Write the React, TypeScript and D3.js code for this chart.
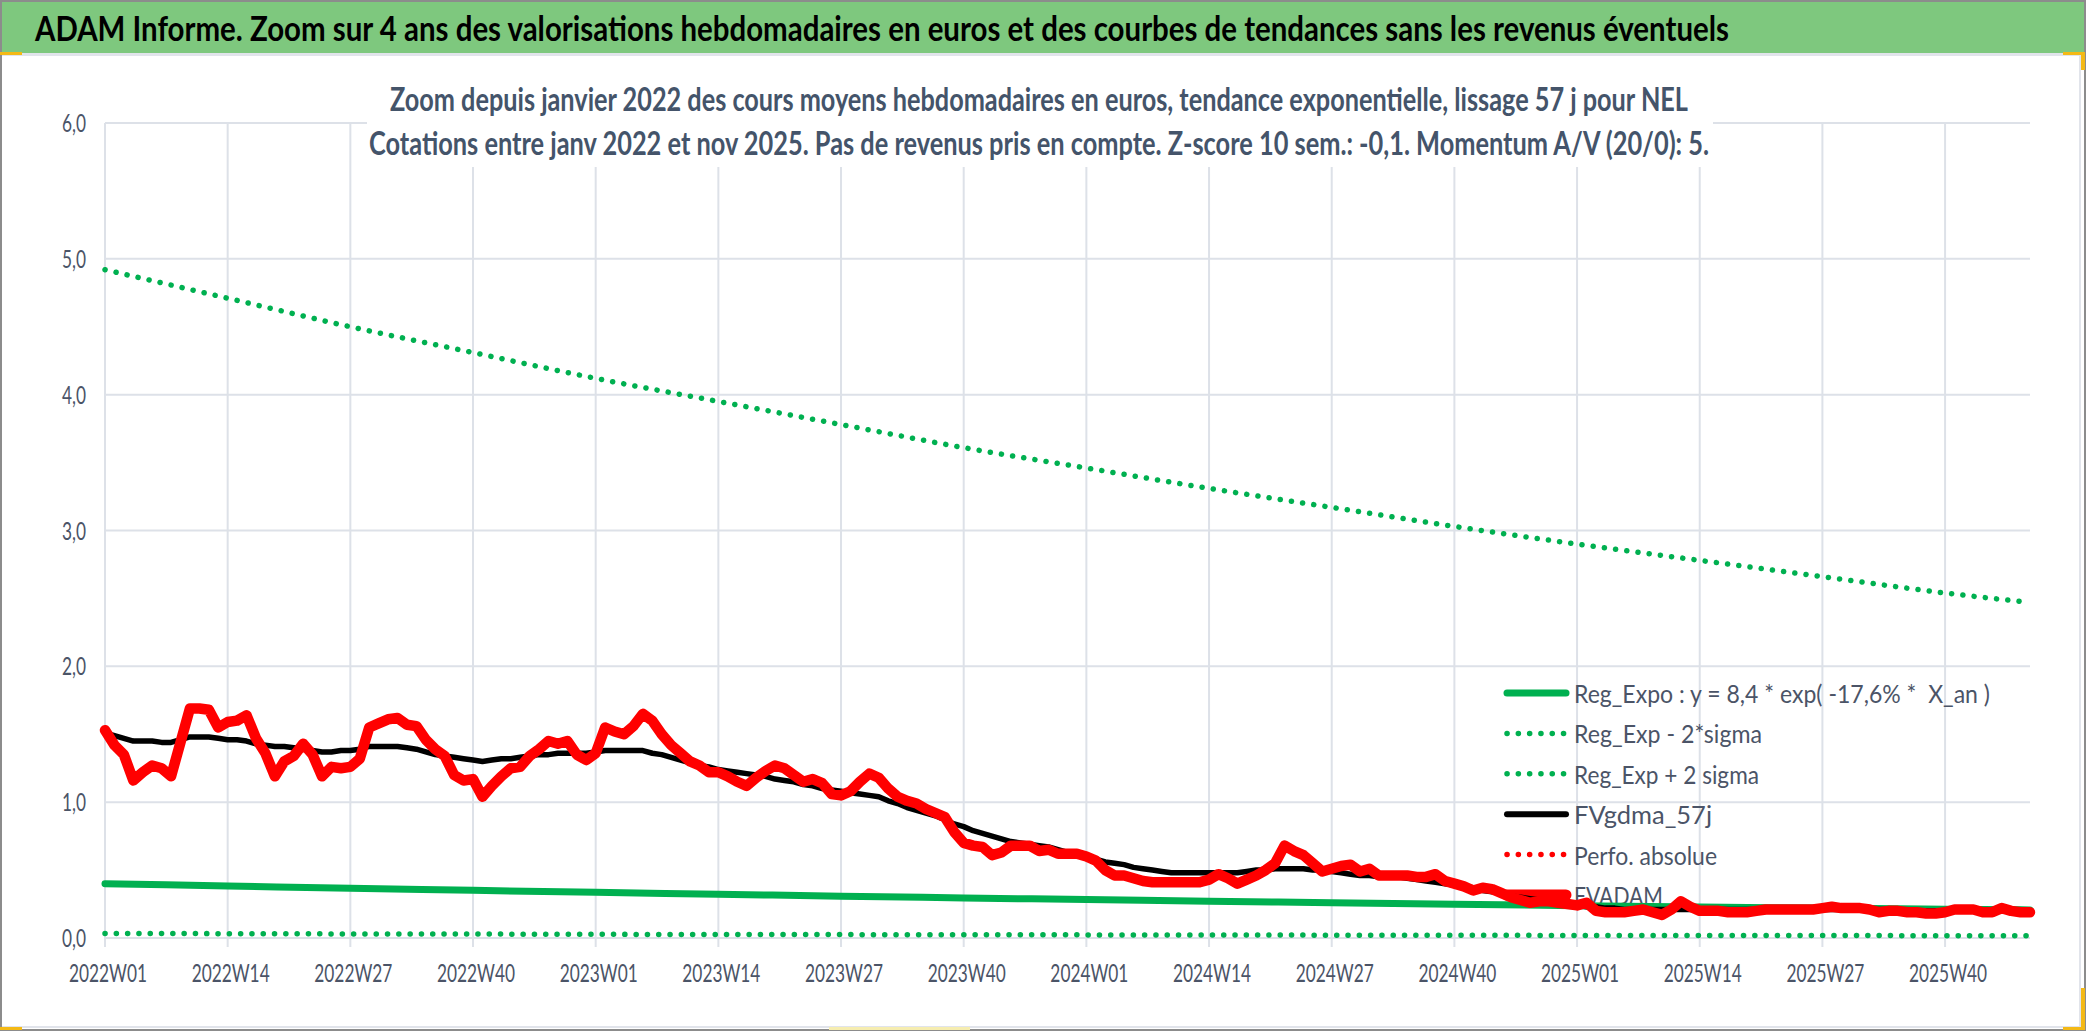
import React from "react";
import * as d3 from "d3";

// ---------- DATA ----------
const years = [2022, 2023, 2024, 2025];
const categories: string[] = years
  .flatMap((yr) => d3.range(1, 53).map((w) => `${yr}W${String(w).padStart(2, "0")}`))
  .slice(0, 205);

const tickLabels = [
  "2022W01", "2022W14", "2022W27", "2022W40",
  "2023W01", "2023W14", "2023W27", "2023W40",
  "2024W01", "2024W14", "2024W27", "2024W40",
  "2025W01", "2025W14", "2025W27", "2025W40",
];

const yTicks = [0, 1, 2, 3, 4, 5, 6];

// weekly FVADAM (red)
const fvadam = [
  1.53, 1.42, 1.35, 1.16, 1.22, 1.27, 1.25, 1.19, 1.44, 1.69,
  1.69, 1.68, 1.55, 1.59, 1.60, 1.64, 1.47, 1.36, 1.19, 1.30,
  1.34, 1.43, 1.35, 1.19, 1.26, 1.25, 1.26, 1.32, 1.55, 1.58,
  1.61, 1.62, 1.57, 1.56, 1.46, 1.39, 1.34, 1.20, 1.16, 1.17,
  1.04, 1.12, 1.19, 1.25, 1.26, 1.34, 1.39, 1.45, 1.43, 1.45,
  1.35, 1.31, 1.36, 1.55, 1.52, 1.50, 1.56, 1.65, 1.60, 1.50,
  1.42, 1.36, 1.30, 1.27, 1.22, 1.22, 1.19, 1.15, 1.12, 1.18,
  1.23, 1.27, 1.25, 1.20, 1.15, 1.17, 1.14, 1.06, 1.05, 1.08,
  1.15, 1.21, 1.18, 1.10, 1.04, 1.01, 0.99, 0.95, 0.92, 0.89,
  0.78, 0.70, 0.68, 0.67, 0.61, 0.63, 0.68, 0.68, 0.68, 0.64,
  0.65, 0.62, 0.62, 0.62, 0.60, 0.57, 0.50, 0.46, 0.46, 0.44,
  0.42, 0.41, 0.41, 0.41, 0.41, 0.41, 0.41, 0.43, 0.47, 0.44,
  0.40, 0.43, 0.46, 0.50, 0.55, 0.68, 0.64, 0.61, 0.55, 0.49,
  0.51, 0.53, 0.54, 0.49, 0.51, 0.46, 0.46, 0.46, 0.46, 0.45,
  0.45, 0.47, 0.42, 0.40, 0.38, 0.35, 0.37, 0.36, 0.33, 0.30,
  0.28, 0.26, 0.27, 0.27, 0.26, 0.25, 0.24, 0.26, 0.20, 0.19,
  0.19, 0.19, 0.20, 0.21, 0.19, 0.17, 0.21, 0.27, 0.23, 0.20,
  0.20, 0.20, 0.19, 0.19, 0.19, 0.20, 0.21, 0.21, 0.21, 0.21,
  0.21, 0.21, 0.22, 0.23, 0.22, 0.22, 0.22, 0.21, 0.19, 0.20,
  0.20, 0.19, 0.19, 0.18, 0.18, 0.19, 0.21, 0.21, 0.21, 0.19,
  0.19, 0.22, 0.20, 0.19, 0.19,
];

// weekly FVgdma_57j (black)
const fvgdma = [
  1.51, 1.49, 1.47, 1.45, 1.45, 1.45, 1.44, 1.44, 1.46, 1.48,
  1.48, 1.48, 1.47, 1.46, 1.46, 1.45, 1.43, 1.42, 1.41, 1.41,
  1.40, 1.39, 1.38, 1.37, 1.37, 1.38, 1.38, 1.39, 1.41, 1.41,
  1.41, 1.41, 1.40, 1.39, 1.37, 1.35, 1.34, 1.33, 1.32, 1.31,
  1.30, 1.31, 1.32, 1.32, 1.33, 1.34, 1.35, 1.35, 1.36, 1.36,
  1.36, 1.36, 1.37, 1.38, 1.38, 1.38, 1.38, 1.38, 1.36, 1.35,
  1.33, 1.31, 1.29, 1.27, 1.26, 1.24, 1.23, 1.22, 1.21, 1.20,
  1.19, 1.17, 1.16, 1.15, 1.13, 1.12, 1.10, 1.09, 1.08, 1.07,
  1.06, 1.05, 1.04, 1.01, 0.99, 0.96, 0.94, 0.92, 0.90, 0.87,
  0.84, 0.82, 0.79, 0.77, 0.75, 0.73, 0.71, 0.70, 0.69, 0.68,
  0.67, 0.65, 0.63, 0.62, 0.60, 0.58, 0.56, 0.55, 0.54, 0.52,
  0.51, 0.50, 0.49, 0.48, 0.48, 0.48, 0.48, 0.48, 0.48, 0.48,
  0.48, 0.49, 0.50, 0.50, 0.51, 0.51, 0.51, 0.51, 0.50, 0.50,
  0.49, 0.48, 0.47, 0.46, 0.46, 0.45, 0.45, 0.45, 0.44, 0.43,
  0.42, 0.41, 0.40, 0.39, 0.38, 0.37, 0.35, 0.34, 0.33, 0.31,
  0.30, 0.29, 0.28, 0.27, 0.26, 0.25, 0.24, 0.23, 0.23, 0.22,
  0.22, 0.21, 0.21, 0.21, 0.21, 0.21, 0.21, 0.21, 0.21, 0.21,
  0.21, 0.21, 0.21, 0.21, 0.21, 0.21, 0.21, 0.21, 0.21, 0.21,
  0.21, 0.21, 0.21, 0.21, 0.21, 0.21, 0.21, 0.21, 0.21, 0.21,
  0.20, 0.20, 0.20, 0.20, 0.20, 0.20, 0.20, 0.20, 0.20, 0.20,
  0.20, 0.20, 0.20, 0.20, 0.20,
];

// regression curves, read at every 13th week and at the last week
const trendWeeks = ["2022W01", "2022W14", "2022W27", "2022W40", "2023W01", "2023W14", "2023W27", "2023W40",
  "2024W01", "2024W14", "2024W27", "2024W40", "2025W01", "2025W14", "2025W27", "2025W40", "2025W49"];
const regExpo = [0.40, 0.383, 0.366, 0.351, 0.336, 0.322, 0.308, 0.295, 0.283, 0.271, 0.260, 0.249, 0.238, 0.229, 0.220, 0.212, 0.207];
const regMinus = [0.033, 0.032, 0.030, 0.029, 0.027, 0.026, 0.025, 0.024, 0.023, 0.022, 0.021, 0.020, 0.019, 0.018, 0.018, 0.017, 0.016];
const regPlus = [4.92, 4.71, 4.50, 4.31, 4.12, 3.95, 3.78, 3.61, 3.46, 3.31, 3.17, 3.03, 2.90, 2.78, 2.66, 2.54, 2.47];

const legendItems = [
  { label: "Reg_Expo : y = 8,4 * exp( -17,6% *  X_an )", color: "#00B050", kind: "solid", w: 7, tl: 416 },
  { label: "Reg_Exp - 2*sigma", color: "#00B050", kind: "dot", w: 5.5, tl: 188 },
  { label: "Reg_Exp + 2 sigma", color: "#00B050", kind: "dot", w: 5.5, tl: 185 },
  { label: "FVgdma_57j", color: "#000000", kind: "solid", w: 6, tl: 138 },
  { label: "Perfo. absolue", color: "#FF0000", kind: "dot", w: 5.5, tl: 143 },
  { label: "FVADAM", color: "#FF0000", kind: "solid", w: 11, tl: 89 },
];

// ---------- LAYOUT ----------
const W = 2086;
const H = 1031;
const PL = 105, PR = 2030, PT = 123, PB = 938;
const DOT = "0.1 11.2";
const TXT = "#4B5467";
const FONT = "Lato, 'Open Sans', sans-serif";

function T(props: any) {
  const { x, y, len, size, weight, fill, anchor, children } = props;
  return (
    <text
      x={x}
      y={y}
      fontSize={size}
      fontWeight={weight || 400}
      fill={fill}
      textAnchor={anchor || "start"}
      fontFamily={FONT}
      textLength={len}
      lengthAdjust="spacingAndGlyphs"
      style={{ whiteSpace: "pre" }}
    >
      {children}
    </text>
  );
}

export default function App() {
  const x = d3.scalePoint<string>().domain(categories).range([PL, PR]);
  const y = d3.scaleLinear().domain([0, 6]).range([PB, PT]);

  const weekLine = d3
    .line<number>()
    .x((_, i) => x(categories[i]) as number)
    .y((d) => y(d))
    .curve(d3.curveLinear);

  const trendLine = d3
    .line<number>()
    .x((_, i) => x(trendWeeks[i]) as number)
    .y((d) => y(d))
    .curve(d3.curveMonotoneX);

  const legX0 = 1507, legX1 = 1566, legTextX = 1574, legY0 = 693, legStep = 40.4;

  return (
    <svg width={W} height={H} style={{ position: "absolute", left: 0, top: 0, background: "#fff" }}>
      <rect x={0} y={0} width={W} height={H} fill="#ffffff" />
      {/* title bar */}
      <rect x={0} y={0} width={W} height={53} fill="#7EC87E" />
      <rect x={0} y={53} width={W} height={3} fill="#E1E4EB" />
      <T x={35} y={41} len={1694} size={35} weight={700} fill="#000">
        ADAM Informe. Zoom sur 4 ans des valorisations hebdomadaires en euros et des courbes de tendances sans les revenus éventuels
      </T>

      {/* gridlines */}
      {yTicks.map((t) => (
        <line key={"h" + t} x1={PL} x2={PR} y1={y(t)} y2={y(t)} stroke="#DDE1E8" strokeWidth={2} />
      ))}
      {tickLabels.map((lb) => (
        <line key={"v" + lb} x1={x(lb)} x2={x(lb)} y1={PT} y2={PB + 9} stroke="#DDE1E8" strokeWidth={2} />
      ))}

      {/* subtitle box */}
      <rect x={367} y={60} width={1346} height={107} fill="#fff" />
      <T x={1039} y={111} len={1298} size={33} weight={700} fill="#44546A" anchor="middle">
        Zoom depuis janvier 2022 des cours moyens hebdomadaires en euros, tendance exponentielle, lissage 57 j pour NEL
      </T>
      <T x={1039} y={155} len={1340} size={33} weight={700} fill="#44546A" anchor="middle">
        Cotations entre janv 2022 et nov 2025. Pas de revenus pris en compte. Z-score 10 sem.: -0,1. Momentum A/V (20/0): 5.
      </T>

      {/* y tick labels */}
      {yTicks.map((t) => (
        <T key={"yl" + t} x={86} y={y(t) + 9} len={24} size={25} fill={TXT} anchor="end">
          {d3.format(".1f")(t).replace(".", ",")}
        </T>
      ))}
      {/* x tick labels */}
      {tickLabels.map((lb) => (
        <T key={"xl" + lb} x={(x(lb) as number) + 3} y={982} len={78} size={25} fill={TXT} anchor="middle">
          {lb}
        </T>
      ))}

      {/* legend */}
      {legendItems.map((it, k) => {
        const ly = legY0 + k * legStep;
        return (
          <g key={"lg" + k}>
            <line
              x1={legX0}
              x2={legX1}
              y1={ly}
              y2={ly}
              stroke={it.color}
              strokeWidth={it.w}
              strokeLinecap="round"
              strokeDasharray={it.kind === "dot" ? DOT : undefined}
            />
            <T x={legTextX} y={ly + 10} len={it.tl} size={25} fill={TXT}>
              {it.label}
            </T>
          </g>
        );
      })}

      {/* series */}
      <path d={trendLine(regExpo) || ""} fill="none" stroke="#00B050" strokeWidth={7} strokeLinecap="round" />
      <path d={trendLine(regMinus) || ""} fill="none" stroke="#00B050" strokeWidth={5.5} strokeLinecap="round" strokeDasharray={DOT} />
      <path d={trendLine(regPlus) || ""} fill="none" stroke="#00B050" strokeWidth={5.5} strokeLinecap="round" strokeDasharray={DOT} />
      <path d={weekLine(fvgdma) || ""} fill="none" stroke="#000" strokeWidth={5.5} strokeLinejoin="round" strokeLinecap="round" />
      <path d={weekLine(fvadam) || ""} fill="none" stroke="#FF0000" strokeWidth={10.5} strokeLinejoin="round" strokeLinecap="round" />

      {/* frame */}
      <line x1={2080} x2={2080} y1={56} y2={1027} stroke="#E1E4EB" strokeWidth={2} />
      <line x1={0} x2={2080} y1={1027} y2={1027} stroke="#E1E4EB" strokeWidth={2} />
      <rect x={1} y={1} width={W - 2} height={H - 2} fill="none" stroke="#8C8C8C" strokeWidth={2} />
      {/* selection handles */}
      <rect x={0} y={52} width={22} height={3} fill="#F4B915" />
      <rect x={2063} y={52} width={22} height={3} fill="#F4B915" />
      <rect x={2081} y={52} width={4} height={18} fill="#F4B915" />
      <rect x={2081} y={988} width={4} height={42} fill="#F4B915" />
      <rect x={2063} y={1027} width={22} height={3} fill="#F4B915" />
      <rect x={0} y={1027} width={22} height={3} fill="#F4B915" />
      <rect x={829} y={1027} width={141} height={3} fill="#F6EDB0" />
    </svg>
  );
}
